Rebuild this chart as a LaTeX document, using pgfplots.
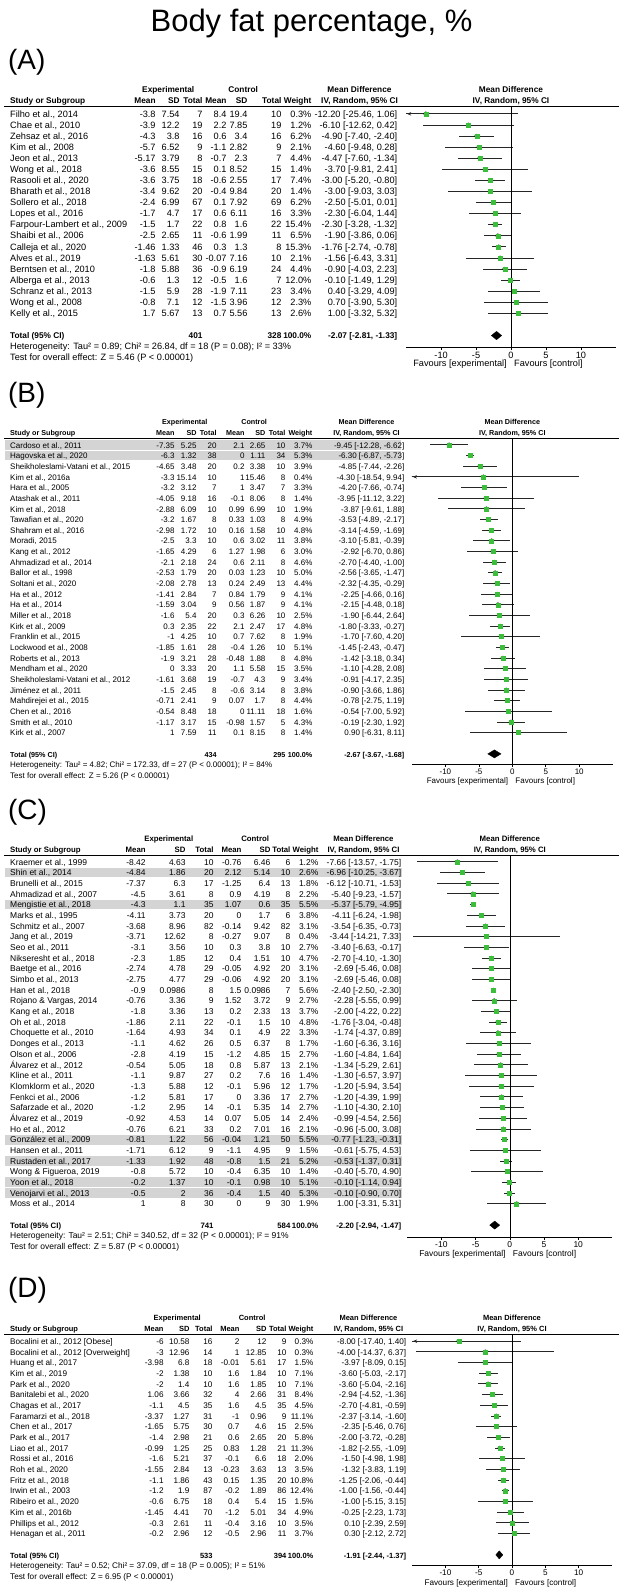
\documentclass[border=0pt]{standalone}
\usepackage{fontspec}
\setmainfont{Liberation Sans}
\usepackage{pgfplots}
\usepackage{pgfplotstable}
\pgfplotsset{compat=1.18}
\usetikzlibrary{arrows.meta}

\definecolor{fgreen}{RGB}{60,190,60}
\definecolor{hlgray}{RGB}{212,212,212}

% forest data: y = -(row), md, lower, upper, weight
\pgfplotstableread{
y md lo hi w
-1 -12.20 -25.46 1.06 0.3
-2 -6.10 -12.62 0.42 1.2
-3 -4.90 -7.40 -2.40 6.2
-4 -4.60 -9.48 0.28 2.1
-5 -4.47 -7.60 -1.34 4.4
-6 -3.70 -9.81 2.41 1.4
-7 -3.00 -5.20 -0.80 7.4
-8 -3.00 -9.03 3.03 1.4
-9 -2.50 -5.01 0.01 6.2
-10 -2.30 -6.04 1.44 3.3
-11 -2.30 -3.28 -1.32 15.4
-12 -1.90 -3.86 0.06 6.5
-13 -1.76 -2.74 -0.78 15.3
-14 -1.56 -6.43 3.31 2.1
-15 -0.90 -4.03 2.23 4.4
-16 -0.10 -1.49 1.29 12.0
-17 0.40 -3.29 4.09 3.4
-18 0.70 -3.90 5.30 2.3
-19 1.00 -3.32 5.32 2.6
}\tabA

\pgfplotstableread{
y md lo hi w
-1 -9.45 -12.28 -6.62 3.7
-2 -6.30 -6.87 -5.73 5.3
-3 -4.85 -7.44 -2.26 3.9
-4 -4.30 -18.54 9.94 0.4
-5 -4.20 -7.66 -0.74 3.3
-6 -3.95 -11.12 3.22 1.4
-7 -3.87 -9.61 1.88 1.9
-8 -3.53 -4.89 -2.17 4.9
-9 -3.14 -4.59 -1.69 4.8
-10 -3.10 -5.81 -0.39 3.8
-11 -2.92 -6.70 0.86 3.0
-12 -2.70 -4.40 -1.00 4.6
-13 -2.56 -3.65 -1.47 5.0
-14 -2.32 -4.35 -0.29 4.4
-15 -2.25 -4.66 0.16 4.1
-16 -2.15 -4.48 0.18 4.1
-17 -1.90 -6.44 2.64 2.5
-18 -1.80 -3.33 -0.27 4.8
-19 -1.70 -7.60 4.20 1.9
-20 -1.45 -2.43 -0.47 5.1
-21 -1.42 -3.18 0.34 4.8
-22 -1.10 -4.28 2.08 3.5
-23 -0.91 -4.17 2.35 3.4
-24 -0.90 -3.66 1.86 3.8
-25 -0.78 -2.75 1.19 4.4
-26 -0.54 -7.00 5.92 1.6
-27 -0.19 -2.30 1.92 4.3
-28 0.90 -6.31 8.11 1.4
}\tabB

\pgfplotstableread{
y md lo hi w
-1 -7.66 -13.57 -1.75 1.2
-2 -6.96 -10.25 -3.67 2.6
-3 -6.12 -10.71 -1.53 1.8
-4 -5.40 -9.23 -1.57 2.2
-5 -5.37 -5.79 -4.95 5.5
-6 -4.11 -6.24 -1.98 3.8
-7 -3.54 -6.35 -0.73 3.1
-8 -3.44 -14.21 7.33 0.4
-9 -3.40 -6.63 -0.17 2.7
-10 -2.70 -4.10 -1.30 4.7
-11 -2.69 -5.46 0.08 3.1
-12 -2.69 -5.46 0.08 3.1
-13 -2.40 -2.50 -2.30 5.6
-14 -2.28 -5.55 0.99 2.7
-15 -2.00 -4.22 0.22 3.7
-16 -1.76 -3.04 -0.48 4.8
-17 -1.74 -4.37 0.89 3.3
-18 -1.60 -6.36 3.16 1.7
-19 -1.60 -4.84 1.64 2.7
-20 -1.34 -5.29 2.61 2.1
-21 -1.30 -6.57 3.97 1.4
-22 -1.20 -5.94 3.54 1.7
-23 -1.20 -4.39 1.99 2.7
-24 -1.10 -4.30 2.10 2.7
-25 -0.99 -4.54 2.56 2.4
-26 -0.96 -5.00 3.08 2.1
-27 -0.77 -1.23 -0.31 5.5
-28 -0.61 -5.75 4.53 1.5
-29 -0.53 -1.37 0.31 5.2
-30 -0.40 -5.70 4.90 1.4
-31 -0.10 -1.14 0.94 5.1
-32 -0.10 -0.90 0.70 5.3
-33 1.00 -3.31 5.31 1.9
}\tabC

\pgfplotstableread{
y md lo hi w
-1 -8.00 -17.40 1.40 0.3
-2 -4.00 -14.37 6.37 0.3
-3 -3.97 -8.09 0.15 1.5
-4 -3.60 -5.03 -2.17 7.1
-5 -3.60 -5.04 -2.16 7.1
-6 -2.94 -4.52 -1.36 8.4
-7 -2.70 -4.81 -0.59 4.5
-8 -2.37 -3.14 -1.60 11.1
-9 -2.35 -5.46 0.76 2.5
-10 -2.00 -3.72 -0.28 5.8
-11 -1.82 -2.55 -1.09 11.3
-12 -1.50 -4.98 1.98 2.0
-13 -1.32 -3.83 1.19 3.5
-14 -1.25 -2.06 -0.44 10.8
-15 -1.00 -1.56 -0.44 12.4
-16 -1.00 -5.15 3.15 1.5
-17 -0.25 -2.23 1.73 4.9
-18 0.10 -2.39 2.59 3.5
-19 0.30 -2.12 2.72 3.7
}\tabD

\pgfplotsset{
  forest/.style={
    scale only axis, anchor=north west, at={(\xL pt,-\lineY pt)},
    width=\axW pt, height=\axH pt,
    xmin=-15, xmax=15, ymin=\ymn, ymax=\ymx,
    axis x line*=bottom, axis y line=none, ytick=\empty,
    xtick={-10,-5,0,5,10}, xticklabels={-10,-5,0,5,10},
    tick align=outside, major tick length=3pt,
    tick style={black, line width=0.6pt},
    axis line style={line width=0.6pt},
    xticklabel style={font=\rf, inner sep=1.5pt},
  },
  ci/.style={only marks, mark=none, forget plot,
    error bars/.cd, x dir=both, x explicit, error mark=none,
    error bar style={line width=0.8pt, black!85}},
  sq/.style={scatter, only marks, mark=square*,
    visualization depends on={0.5*sqrt(\thisrow{w})+0.35 \as \msz},
    scatter/@pre marker code/.append style={/tikz/mark size=\msz pt},
    scatter/use mapped color={draw=fgreen, fill=fgreen}},
  arr/.style={black!85, line width=0.8pt, -{Stealth[length=4pt,width=3.5pt]}},
  dia/.style={fill=black, draw=black, line width=0.3pt},
}

\newcommand\rf{\fontsize{\fsz}{10}\selectfont}
\newcommand\hf{\fontsize{\hsz}{10}\selectfont\bfseries}
\def\fsz{9.2}\def\hsz{8.3}
\def\bo{3.2}

\newcommand{\setcols}[8]{\def\cMa{#1}\def\cSa{#2}\def\cNa{#3}\def\cMb{#4}\def\cSb{#5}\def\cNb{#6}\def\cW{#7}\def\cMD{#8}}

% axis geometry in row units (outside any scope)
\newcommand{\axcalc}{%
  \pgfmathsetmacro\ymn{-(1+(\axisY-\yone)/\rs)}%
  \pgfmathsetmacro\ymx{-(1-(\yone-\lineY)/\rs)}%
  \pgfmathsetmacro\axH{\axisY-\lineY}%
}

\newcommand{\panelframe}[2]{%
  \node[anchor=west, inner sep=0pt, font=\fontsize{28}{30}\selectfont] at (8,#2) {#1};
  \pgfmathsetmacro\hb{\lineY-14}
  \pgfmathsetmacro\hbb{\lineY-3}
  \pgfmathsetmacro\xe{(\cMa-22+\cNa)/2}
  \pgfmathsetmacro\xc{(\cMb-22+\cNb)/2}
  \pgfmathsetmacro\xm{\cMD-38}
  \node[hd, anchor=base] at (\xe,\hb) {Experimental};
  \node[hd, anchor=base] at (\xc,\hb) {Control};
  \node[hd, anchor=base] at (\xm,\hb) {Mean Difference};
  \node[hd, anchor=base] at (\xz,\hb) {Mean Difference};
  \node[hd, anchor=base west] at (10,\hbb) {Study or Subgroup};
  \node[hd, anchor=base east] at (\cMa,\hbb) {Mean};
  \node[hd, anchor=base east] at (\cSa,\hbb) {SD};
  \node[hd, anchor=base east] at (\cNa,\hbb) {Total};
  \node[hd, anchor=base east] at (\cMb,\hbb) {Mean};
  \node[hd, anchor=base east] at (\cSb,\hbb) {SD};
  \node[hd, anchor=base east] at (\cNb,\hbb) {Total};
  \node[hd, anchor=base east] at (\cW,\hbb) {Weight};
  \node[hd, anchor=base] at (\xm,\hbb) {IV, Random, 95\% CI};
  \node[hd, anchor=base] at (\xz,\hbb) {IV, Random, 95\% CI};
  \draw[line width=0.8pt] (4,\lineY) -- (620,\lineY);
  \pgfmathsetmacro\fy{\axisY+20}
  \pgfmathsetmacro\xfa{\xz-4}
  \pgfmathsetmacro\xfb{\xz+3}
  \node[tx, anchor=base east] at (\xfa,\fy) {Favours [experimental]};
  \node[tx, anchor=base west] at (\xfb,\fy) {Favours [control]};
}

\newcommand{\hl}[1]{%
  \foreach \r in {#1}{%
    \pgfmathsetmacro\ya{\yone+\rs*(\r-1)-\rs/2+0.4}
    \pgfmathsetmacro\yb{\yone+\rs*(\r-1)+\rs/2-0.4}
    \fill[hlgray] (5,\ya) rectangle (\hlx,\yb);
  }}

\newcommand{\rows}[1]{%
  \foreach \fn/\fa/\fb/\fc/\fd/\fe/\ff/\fg/\fh [count=\i] in {#1}{%
    \pgfmathsetmacro\yb{\yone+\rs*(\i-1)+\bo}
    \node[tx, anchor=base west] at (10,\yb) {\fn};
    \node[tx, anchor=base east] at (\cMa,\yb) {\fa};
    \node[tx, anchor=base east] at (\cSa,\yb) {\fb};
    \node[tx, anchor=base east] at (\cNa,\yb) {\fc};
    \node[tx, anchor=base east] at (\cMb,\yb) {\fd};
    \node[tx, anchor=base east] at (\cSb,\yb) {\fe};
    \node[tx, anchor=base east] at (\cNb,\yb) {\ff};
    \node[tx, anchor=base east] at (\cW,\yb) {\fg};
    \node[tx, anchor=base east] at (\cMD,\yb) {\fh};
  }}

% #1 total row, #2 n exp, #3 n ctrl, #4 MD text, #5 heterogeneity, #6 overall test
\newcommand{\panelfoot}[6]{%
  \pgfmathsetmacro\yb{\yone+\rs*(#1-1)+\bo}
  \node[hd, anchor=base west] at (10,\yb) {Total (95\% CI)};
  \node[hd, anchor=base east] at (\cNa,\yb) {#2};
  \node[hd, anchor=base east] at (\cNb,\yb) {#3};
  \node[hd, anchor=base east] at (\cW,\yb) {100.0\%};
  \node[hd, anchor=base east] at (\cMD,\yb) {#4};
  \pgfmathsetmacro\yb{\yone+\rs*(#1)+\bo}
  \node[tx, anchor=base west] at (10,\yb) {#5};
  \pgfmathsetmacro\yb{\yone+\rs*(#1+1)+\bo}
  \node[tx, anchor=base west] at (10,\yb) {#6};
}

\tikzset{px/.style={x=1pt, y=-1pt},
  tx/.style={inner sep=0pt, font=\rf},
  hd/.style={inner sep=0pt, font=\hf}}

\begin{document}
\begin{tikzpicture}
\begin{scope}[px]
\path[use as bounding box] (0,0) rectangle (624,1587);
\node[font=\fontsize{31}{33}\selectfont] at (312,24) {Body fat percentage, \%};
\end{scope}

% ================= (A)
\def\fsz{9.2}\def\hsz{8.3}
\def\lineY{107}\def\yone{114}\def\rs{11.1}\def\axisY{347.5}
\def\xL{406.7}\def\axW{210}\def\xz{511.7}\def\hlx{400}
\setcols{156}{180}{203}{227}{248}{282}{312}{398}
\axcalc
\begin{scope}[px]
\panelframe{(A)}{62}
\rows{
{Filho et al., 2014}/-3.8/7.54/7/8.4/19.4/10/0.3\%/{-12.20 [-25.46, 1.06]},
{Chae et al., 2010}/-3.9/12.2/19/2.2/7.85/19/1.2\%/{-6.10 [-12.62, 0.42]},
{Zehsaz et al., 2016}/-4.3/3.8/16/0.6/3.4/16/6.2\%/{-4.90 [-7.40, -2.40]},
{Kim et al., 2008}/-5.7/6.52/9/-1.1/2.82/9/2.1\%/{-4.60 [-9.48, 0.28]},
{Jeon et al., 2013}/-5.17/3.79/8/-0.7/2.3/7/4.4\%/{-4.47 [-7.60, -1.34]},
{Wong et al., 2018}/-3.6/8.55/15/0.1/8.52/15/1.4\%/{-3.70 [-9.81, 2.41]},
{Rasooli et al., 2020}/-3.6/3.75/18/-0.6/2.55/17/7.4\%/{-3.00 [-5.20, -0.80]},
{Bharath et al., 2018}/-3.4/9.62/20/-0.4/9.84/20/1.4\%/{-3.00 [-9.03, 3.03]},
{Sollero et al., 2018}/-2.4/6.99/67/0.1/7.92/69/6.2\%/{-2.50 [-5.01, 0.01]},
{Lopes et al., 2016}/-1.7/4.7/17/0.6/6.11/16/3.3\%/{-2.30 [-6.04, 1.44]},
{Farpour-Lambert et al., 2009}/-1.5/1.7/22/0.8/1.6/22/15.4\%/{-2.30 [-3.28, -1.32]},
{Shaibi et al., 2006}/-2.5/2.65/11/-0.6/1.99/11/6.5\%/{-1.90 [-3.86, 0.06]},
{Calleja et al., 2020}/-1.46/1.33/46/0.3/1.3/8/15.3\%/{-1.76 [-2.74, -0.78]},
{Alves et al., 2019}/-1.63/5.61/30/-0.07/7.16/10/2.1\%/{-1.56 [-6.43, 3.31]},
{Berntsen et al., 2010}/-1.8/5.88/36/-0.9/6.19/24/4.4\%/{-0.90 [-4.03, 2.23]},
{Alberga et al., 2013}/-0.6/1.3/12/-0.5/1.6/7/12.0\%/{-0.10 [-1.49, 1.29]},
{Schranz et al., 2013}/-1.5/5.9/28/-1.9/7.11/23/3.4\%/{0.40 [-3.29, 4.09]},
{Wong et al., 2008}/-0.8/7.1/12/-1.5/3.96/12/2.3\%/{0.70 [-3.90, 5.30]},
{Kelly et al., 2015}/1.7/5.67/13/0.7/5.56/13/2.6\%/{1.00 [-3.32, 5.32]}}
\panelfoot{21}{401}{328}{-2.07 [-2.81, -1.33]}
  {Heterogeneity: Tau² = 0.89; Chi² = 26.84, df = 18 (P = 0.08); I² = 33\%}
  {Test for overall effect: Z = 5.46 (P < 0.00001)}
\end{scope}
\begin{axis}[forest]
\addplot[ci] table[x=md, y=y, x error plus expr=\thisrow{hi}-\thisrow{md}, x error minus expr=\thisrow{md}-\thisrow{lo}] {\tabA};
\addplot[sq] table[x=md, y=y] {\tabA};
\addplot[arr] coordinates {(-12.2,-1) (-14.85,-1)};
\addplot[dia] coordinates {(-2.81,-21) (-2.07,-20.62) (-1.33,-21) (-2.07,-21.38)} -- cycle;
\draw[black, line width=0.6pt] (rel axis cs:0.5,0) -- (rel axis cs:0.5,1);
\end{axis}

% ================= (B)
\def\fsz{8.0}\def\hsz{7.2}
\def\lineY{439}\def\yone{445.5}\def\rs{10.67}\def\axisY{765}
\def\xL{412.5}\def\axW{201}\def\xz{513}\def\hlx{402}
\setcols{175}{197}{217}{245}{266}{286}{313}{405}
\axcalc
\begin{scope}[px]
\hl{1,2}
\panelframe{(B)}{396}
\rows{
{Cardoso et al., 2011}/-7.35/5.25/20/2.1/2.65/10/3.7\%/{-9.45 [-12.28, -6.62]},
{Hagovska et al., 2020}/-6.3/1.32/38/0/1.11/34/5.3\%/{-6.30 [-6.87, -5.73]},
{Sheikholeslami-Vatani et al., 2015}/-4.65/3.48/20/0.2/3.38/10/3.9\%/{-4.85 [-7.44, -2.26]},
{Kim et al., 2016a}/-3.3/15.14/10/1/15.46/8/0.4\%/{-4.30 [-18.54, 9.94]},
{Hara et al., 2005}/-3.2/3.12/7/1/3.47/7/3.3\%/{-4.20 [-7.66, -0.74]},
{Atashak et al., 2011}/-4.05/9.18/16/-0.1/8.06/8/1.4\%/{-3.95 [-11.12, 3.22]},
{Kim et al., 2018}/-2.88/6.09/10/0.99/6.99/10/1.9\%/{-3.87 [-9.61, 1.88]},
{Tawafian et al., 2020}/-3.2/1.67/8/0.33/1.03/8/4.9\%/{-3.53 [-4.89, -2.17]},
{Shahram et al., 2016}/-2.98/1.72/10/0.16/1.58/10/4.8\%/{-3.14 [-4.59, -1.69]},
{Moradi, 2015}/-2.5/3.3/10/0.6/3.02/11/3.8\%/{-3.10 [-5.81, -0.39]},
{Kang et al., 2012}/-1.65/4.29/6/1.27/1.98/6/3.0\%/{-2.92 [-6.70, 0.86]},
{Ahmadizad et al., 2014}/-2.1/2.18/24/0.6/2.11/8/4.6\%/{-2.70 [-4.40, -1.00]},
{Ballor et al., 1998}/-2.53/1.79/20/0.03/1.23/10/5.0\%/{-2.56 [-3.65, -1.47]},
{Soltani et al., 2020}/-2.08/2.78/13/0.24/2.49/13/4.4\%/{-2.32 [-4.35, -0.29]},
{Ha et al., 2012}/-1.41/2.84/7/0.84/1.79/9/4.1\%/{-2.25 [-4.66, 0.16]},
{Ha et al., 2014}/-1.59/3.04/9/0.56/1.87/9/4.1\%/{-2.15 [-4.48, 0.18]},
{Miller et al., 2018}/-1.6/5.4/20/0.3/6.26/10/2.5\%/{-1.90 [-6.44, 2.64]},
{Kirk et al., 2009}/0.3/2.35/22/2.1/2.47/17/4.8\%/{-1.80 [-3.33, -0.27]},
{Franklin et al., 2015}/-1/4.25/10/0.7/7.62/8/1.9\%/{-1.70 [-7.60, 4.20]},
{Lockwood et al., 2008}/-1.85/1.61/28/-0.4/1.26/10/5.1\%/{-1.45 [-2.43, -0.47]},
{Roberts et al., 2013}/-1.9/3.21/28/-0.48/1.88/8/4.8\%/{-1.42 [-3.18, 0.34]},
{Mendham et al., 2020}/0/3.33/20/1.1/5.58/15/3.5\%/{-1.10 [-4.28, 2.08]},
{Sheikholeslami-Vatani et al., 2012}/-1.61/3.68/19/-0.7/4.3/9/3.4\%/{-0.91 [-4.17, 2.35]},
{Jiménez et al., 2011}/-1.5/2.45/8/-0.6/3.14/8/3.8\%/{-0.90 [-3.66, 1.86]},
{Mahdirejei et al., 2015}/-0.71/2.41/9/0.07/1.7/8/4.4\%/{-0.78 [-2.75, 1.19]},
{Chen et al., 2016}/-0.54/8.48/18/0/11.11/18/1.6\%/{-0.54 [-7.00, 5.92]},
{Smith et al., 2010}/-1.17/3.17/15/-0.98/1.57/5/4.3\%/{-0.19 [-2.30, 1.92]},
{Kirk et al., 2007}/1/7.59/11/0.1/8.15/8/1.4\%/{0.90 [-6.31, 8.11]}}
\panelfoot{30}{434}{295}{-2.67 [-3.67, -1.68]}
  {Heterogeneity: Tau² = 4.82; Chi² = 172.33, df = 27 (P < 0.00001); I² = 84\%}
  {Test for overall effect: Z = 5.26 (P < 0.00001)}
\end{scope}
\begin{axis}[forest]
\addplot[ci] table[x=md, y=y, x error plus expr=\thisrow{hi}-\thisrow{md}, x error minus expr=\thisrow{md}-\thisrow{lo}] {\tabB};
\addplot[sq] table[x=md, y=y] {\tabB};
\addplot[arr] coordinates {(-4.3,-4) (-14.85,-4)};
\addplot[dia] coordinates {(-3.67,-30) (-2.67,-29.62) (-1.68,-30) (-2.67,-30.38)} -- cycle;
\draw[black, line width=0.6pt] (rel axis cs:0.5,0) -- (rel axis cs:0.5,1);
\end{axis}

% ================= (C)
\def\fsz{8.5}\def\hsz{7.8}
\def\lineY{856.5}\def\yone{863}\def\rs{10.7}\def\axisY{1238.5}
\def\xL{407.7}\def\axW{205.6}\def\xz{510.5}\def\hlx{403}
\setcols{146}{186}{214}{242}{271}{291}{319}{402}
\axcalc
\begin{scope}[px]
\hl{2,5,27,29,31,32}
\panelframe{(C)}{813}
\rows{
{Kraemer et al., 1999}/-8.42/4.63/10/-0.76/6.46/6/1.2\%/{-7.66 [-13.57, -1.75]},
{Shin et al., 2014}/-4.84/1.86/20/2.12/5.14/10/2.6\%/{-6.96 [-10.25, -3.67]},
{Brunelli et al., 2015}/-7.37/6.3/17/-1.25/6.4/13/1.8\%/{-6.12 [-10.71, -1.53]},
{Ahmadizad et al., 2007}/-4.5/3.61/8/0.9/4.19/8/2.2\%/{-5.40 [-9.23, -1.57]},
{Mengistie et al., 2018}/-4.3/1.1/35/1.07/0.6/35/5.5\%/{-5.37 [-5.79, -4.95]},
{Marks et al., 1995}/-4.11/3.73/20/0/1.7/6/3.8\%/{-4.11 [-6.24, -1.98]},
{Schmitz et al., 2007}/-3.68/8.96/82/-0.14/9.42/82/3.1\%/{-3.54 [-6.35, -0.73]},
{Jang et al., 2019}/-3.71/12.62/8/-0.27/9.07/8/0.4\%/{-3.44 [-14.21, 7.33]},
{Seo et al., 2011}/-3.1/3.56/10/0.3/3.8/10/2.7\%/{-3.40 [-6.63, -0.17]},
{Nikseresht et al., 2018}/-2.3/1.85/12/0.4/1.51/10/4.7\%/{-2.70 [-4.10, -1.30]},
{Baetge et al., 2016}/-2.74/4.78/29/-0.05/4.92/20/3.1\%/{-2.69 [-5.46, 0.08]},
{Simbo et al., 2013}/-2.75/4.77/29/-0.06/4.92/20/3.1\%/{-2.69 [-5.46, 0.08]},
{Han et al., 2018}/-0.9/0.0986/8/1.5/0.0986/7/5.6\%/{-2.40 [-2.50, -2.30]},
{Rojano \& Vargas, 2014}/-0.76/3.36/9/1.52/3.72/9/2.7\%/{-2.28 [-5.55, 0.99]},
{Kang et al., 2018}/-1.8/3.36/13/0.2/2.33/13/3.7\%/{-2.00 [-4.22, 0.22]},
{Oh et al., 2018}/-1.86/2.11/22/-0.1/1.5/10/4.8\%/{-1.76 [-3.04, -0.48]},
{Choquette et al., 2010}/-1.64/4.93/34/0.1/4.9/22/3.3\%/{-1.74 [-4.37, 0.89]},
{Donges et al., 2013}/-1.1/4.62/26/0.5/6.37/8/1.7\%/{-1.60 [-6.36, 3.16]},
{Olson et al., 2006}/-2.8/4.19/15/-1.2/4.85/15/2.7\%/{-1.60 [-4.84, 1.64]},
{Álvarez et al., 2012}/-0.54/5.05/18/0.8/5.87/13/2.1\%/{-1.34 [-5.29, 2.61]},
{Kline et al., 2011}/-1.1/9.87/27/0.2/7.6/16/1.4\%/{-1.30 [-6.57, 3.97]},
{Klomklorm et al., 2020}/-1.3/5.88/12/-0.1/5.96/12/1.7\%/{-1.20 [-5.94, 3.54]},
{Fenkci et al., 2006}/-1.2/5.81/17/0/3.36/17/2.7\%/{-1.20 [-4.39, 1.99]},
{Safarzade et al., 2020}/-1.2/2.95/14/-0.1/5.35/14/2.7\%/{-1.10 [-4.30, 2.10]},
{Álvarez et al., 2019}/-0.92/4.53/14/0.07/5.05/14/2.4\%/{-0.99 [-4.54, 2.56]},
{Ho et al., 2012}/-0.76/6.21/33/0.2/7.01/16/2.1\%/{-0.96 [-5.00, 3.08]},
{González et al., 2009}/-0.81/1.22/56/-0.04/1.21/50/5.5\%/{-0.77 [-1.23, -0.31]},
{Hansen et al., 2011}/-1.71/6.12/9/-1.1/4.95/9/1.5\%/{-0.61 [-5.75, 4.53]},
{Rustaden et al., 2017}/-1.33/1.92/48/-0.8/1.5/21/5.2\%/{-0.53 [-1.37, 0.31]},
{Wong \& Figueroa, 2019}/-0.8/5.72/10/-0.4/6.35/10/1.4\%/{-0.40 [-5.70, 4.90]},
{Yoon et al., 2018}/-0.2/1.37/10/-0.1/0.98/10/5.1\%/{-0.10 [-1.14, 0.94]},
{Venojarvi et al., 2013}/-0.5/2/36/-0.4/1.5/40/5.3\%/{-0.10 [-0.90, 0.70]},
{Moss et al., 2014}/1/8/30/0/9/30/1.9\%/{1.00 [-3.31, 5.31]}}
\panelfoot{35}{741}{584}{-2.20 [-2.94, -1.47]}
  {Heterogeneity: Tau² = 2.51; Chi² = 340.52, df = 32 (P < 0.00001); I² = 91\%}
  {Test for overall effect: Z = 5.87 (P < 0.00001)}
\end{scope}
\begin{axis}[forest]
\addplot[ci] table[x=md, y=y, x error plus expr=\thisrow{hi}-\thisrow{md}, x error minus expr=\thisrow{md}-\thisrow{lo}] {\tabC};
\addplot[sq] table[x=md, y=y] {\tabC};
\addplot[dia] coordinates {(-2.94,-35) (-2.20,-34.62) (-1.47,-35) (-2.20,-35.38)} -- cycle;
\draw[black, line width=0.6pt] (rel axis cs:0.5,0) -- (rel axis cs:0.5,1);
\end{axis}

% ================= (D)
\def\fsz{8.2}\def\hsz{7.5}
\def\lineY{1336.5}\def\yone{1343}\def\rs{10.7}\def\axisY{1567.5}
\def\xL{412.7}\def\axW{200}\def\xz{512.7}\def\hlx{402}
\setcols{164}{190}{213}{240}{267}{287}{314}{407}
\axcalc
\begin{scope}[px]
\panelframe{(D)}{1292}
\rows{
{Bocalini et al., 2012 [Obese]}/-6/10.58/16/2/12/9/0.3\%/{-8.00 [-17.40, 1.40]},
{Bocalini et al., 2012 [Overweight]}/-3/12.96/14/1/12.85/10/0.3\%/{-4.00 [-14.37, 6.37]},
{Huang et al., 2017}/-3.98/6.8/18/-0.01/5.61/17/1.5\%/{-3.97 [-8.09, 0.15]},
{Kim et al., 2019}/-2/1.38/10/1.6/1.84/10/7.1\%/{-3.60 [-5.03, -2.17]},
{Park et al., 2020}/-2/1.4/10/1.6/1.85/10/7.1\%/{-3.60 [-5.04, -2.16]},
{Banitalebi et al., 2020}/1.06/3.66/32/4/2.66/31/8.4\%/{-2.94 [-4.52, -1.36]},
{Chagas et al., 2017}/-1.1/4.5/35/1.6/4.5/35/4.5\%/{-2.70 [-4.81, -0.59]},
{Faramarzi et al., 2018}/-3.37/1.27/31/-1/0.96/9/11.1\%/{-2.37 [-3.14, -1.60]},
{Chen et al., 2017}/-1.65/5.75/30/0.7/4.6/15/2.5\%/{-2.35 [-5.46, 0.76]},
{Park et al., 2017}/-1.4/2.98/21/0.6/2.65/20/5.8\%/{-2.00 [-3.72, -0.28]},
{Liao et al., 2017}/-0.99/1.25/25/0.83/1.28/21/11.3\%/{-1.82 [-2.55, -1.09]},
{Rossi et al., 2016}/-1.6/5.21/37/-0.1/6.6/18/2.0\%/{-1.50 [-4.98, 1.98]},
{Roh et al., 2020}/-1.55/2.84/13/-0.23/3.63/13/3.5\%/{-1.32 [-3.83, 1.19]},
{Fritz et al., 2018}/-1.1/1.86/43/0.15/1.35/20/10.8\%/{-1.25 [-2.06, -0.44]},
{Irwin et al., 2003}/-1.2/1.9/87/-0.2/1.89/86/12.4\%/{-1.00 [-1.56, -0.44]},
{Ribeiro et al., 2020}/-0.6/6.75/18/0.4/5.4/15/1.5\%/{-1.00 [-5.15, 3.15]},
{Kim et al., 2016b}/-1.45/4.41/70/-1.2/5.01/34/4.9\%/{-0.25 [-2.23, 1.73]},
{Phillips et al., 2012}/-0.3/2.61/11/-0.4/3.16/10/3.5\%/{0.10 [-2.39, 2.59]},
{Henagan et al., 2011}/-0.2/2.96/12/-0.5/2.96/11/3.7\%/{0.30 [-2.12, 2.72]}}
\panelfoot{21}{533}{394}{-1.91 [-2.44, -1.37]}
  {Heterogeneity: Tau² = 0.52; Chi² = 37.09, df = 18 (P = 0.005); I² = 51\%}
  {Test for overall effect: Z = 6.95 (P < 0.00001)}
\end{scope}
\begin{axis}[forest]
\addplot[ci] table[x=md, y=y, x error plus expr=\thisrow{hi}-\thisrow{md}, x error minus expr=\thisrow{md}-\thisrow{lo}] {\tabD};
\addplot[sq] table[x=md, y=y] {\tabD};
\addplot[arr] coordinates {(-8,-1) (-14.85,-1)};
\addplot[dia] coordinates {(-2.44,-21) (-1.91,-20.62) (-1.37,-21) (-1.91,-21.38)} -- cycle;
\draw[black, line width=0.6pt] (rel axis cs:0.5,0) -- (rel axis cs:0.5,1);
\end{axis}
\end{tikzpicture}
\end{document}
